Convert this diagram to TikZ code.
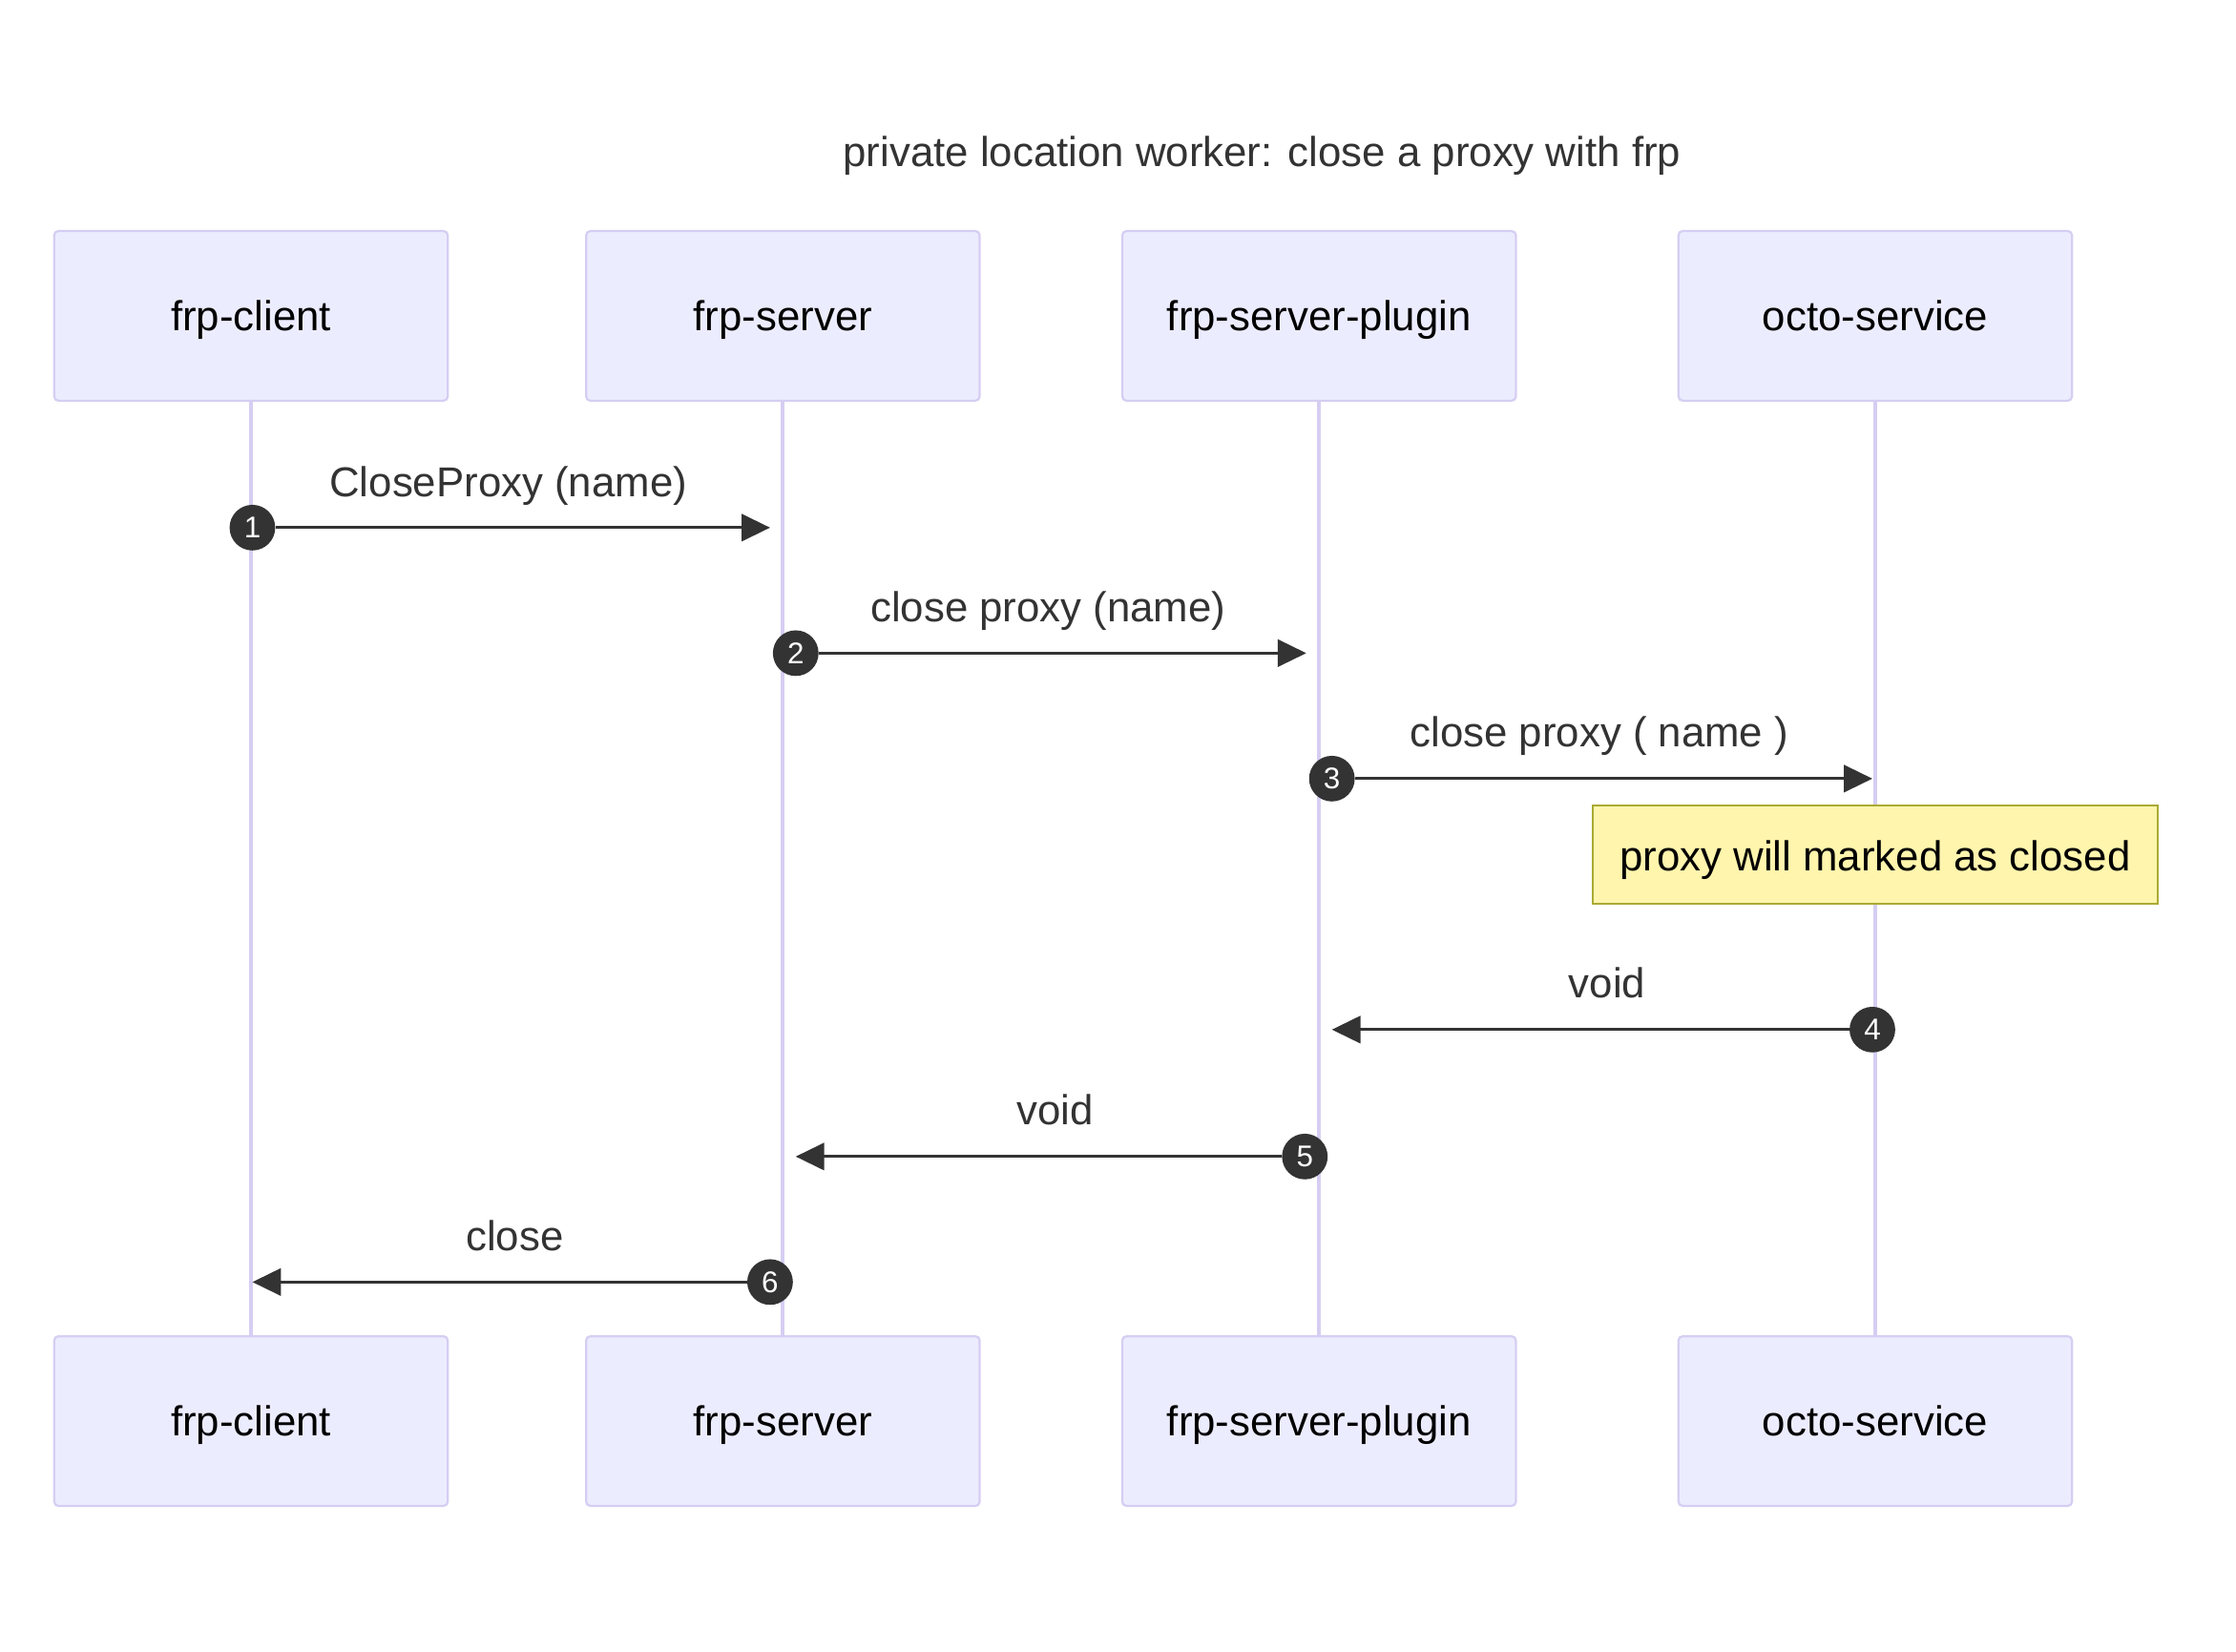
\documentclass[tikz,border=0pt]{standalone}
\usepackage{fontspec}
\setmainfont{Liberation Sans}
\usetikzlibrary{arrows.meta,positioning,calc}
\definecolor{actfill}{HTML}{ECECFF}
\definecolor{actline}{HTML}{D6CEF2}
\definecolor{msgcol}{HTML}{333333}
\definecolor{notefill}{HTML}{FFF5AD}
\definecolor{noteline}{HTML}{AAAA33}
\tikzset{
  actor/.style={draw=actline,fill=actfill,line width=1.5pt,rounded corners=3pt,
    minimum width=276pt,minimum height=119pt,text height=27pt,text depth=6.2pt,
    font=\fontsize{29.3}{35}\selectfont},
  life/.style={draw=actline,line width=2.5pt},
  msg/.style={draw=msgcol,line width=2pt,-{Triangle[length=20pt,width=19pt]}},
  num/.style={circle,fill=msgcol,text=white,minimum size=32pt,inner sep=0pt,
    font=\fontsize{21}{21}\selectfont},
  lbl/.style={text=msgcol,anchor=base,font=\fontsize{29.3}{35}\selectfont},
  notebox/.style={draw=noteline,fill=notefill,line width=1.5pt,minimum width=396pt,
    minimum height=69pt,text height=29pt,text depth=6.2pt,
    font=\fontsize{29.3}{35}\selectfont}
}
\begin{document}
\begin{tikzpicture}[x=1pt,y=-1pt]
  \useasboundingbox (0,0) rectangle (1568,1158);
  \node[lbl] (title) at (885,116.5) {private location worker: close a proxy with frp};
  % participants and lifelines
  \foreach \n/\x/\t in {cli/176/frp-client,srv/549/frp-server,
    plg/925/frp-server-plugin,oct/1315/octo-service}{
    \node[actor] (top-\n) at (\x,221.5) {\t};
    \node[actor] (bot-\n) at (\x,996.5) {\t};
    \draw[life] (top-\n.south) -- (bot-\n.north);
  }
  % messages
  \node[num] (n1) at (177,370) {1};
  \coordinate (e1) at (540,370);
  \draw[msg] (n1) -- (e1);
  \node[lbl,xshift=-2pt,yshift=22pt] (l1) at ($(n1)!.5!(e1)$) {CloseProxy (name)};
  \node[num] (n2) at (558,458) {2};
  \coordinate (e2) at (916,458);
  \draw[msg] (n2) -- (e2);
  \node[lbl,xshift=-2pt,yshift=22pt] (l2) at ($(n2)!.5!(e2)$) {close proxy (name)};
  \node[num] (n3) at (934,546) {3};
  \coordinate (e3) at (1313,546);
  \draw[msg] (n3) -- (e3);
  \node[lbl,xshift=-2pt,yshift=22pt] (l3) at ($(n3)!.5!(e3)$) {close proxy ( name )};
  \node[notebox] (note) at (1315,599.5) {proxy will marked as closed};
  \node[num] (n4) at (1313,722) {4};
  \coordinate (e4) at (934,722);
  \draw[msg] (n4) -- (e4);
  \node[lbl,xshift=3.5pt,yshift=22pt] (l4) at ($(n4)!.5!(e4)$) {void};
  \node[num] (n5) at (915,811) {5};
  \coordinate (e5) at (558,811);
  \draw[msg] (n5) -- (e5);
  \node[lbl,xshift=3.5pt,yshift=22pt] (l5) at ($(n5)!.5!(e5)$) {void};
  \node[num] (n6) at (540,899) {6};
  \coordinate (e6) at (177,899);
  \draw[msg] (n6) -- (e6);
  \node[lbl,xshift=2.5pt,yshift=22pt] (l6) at ($(n6)!.5!(e6)$) {close};
\end{tikzpicture}
\end{document}
